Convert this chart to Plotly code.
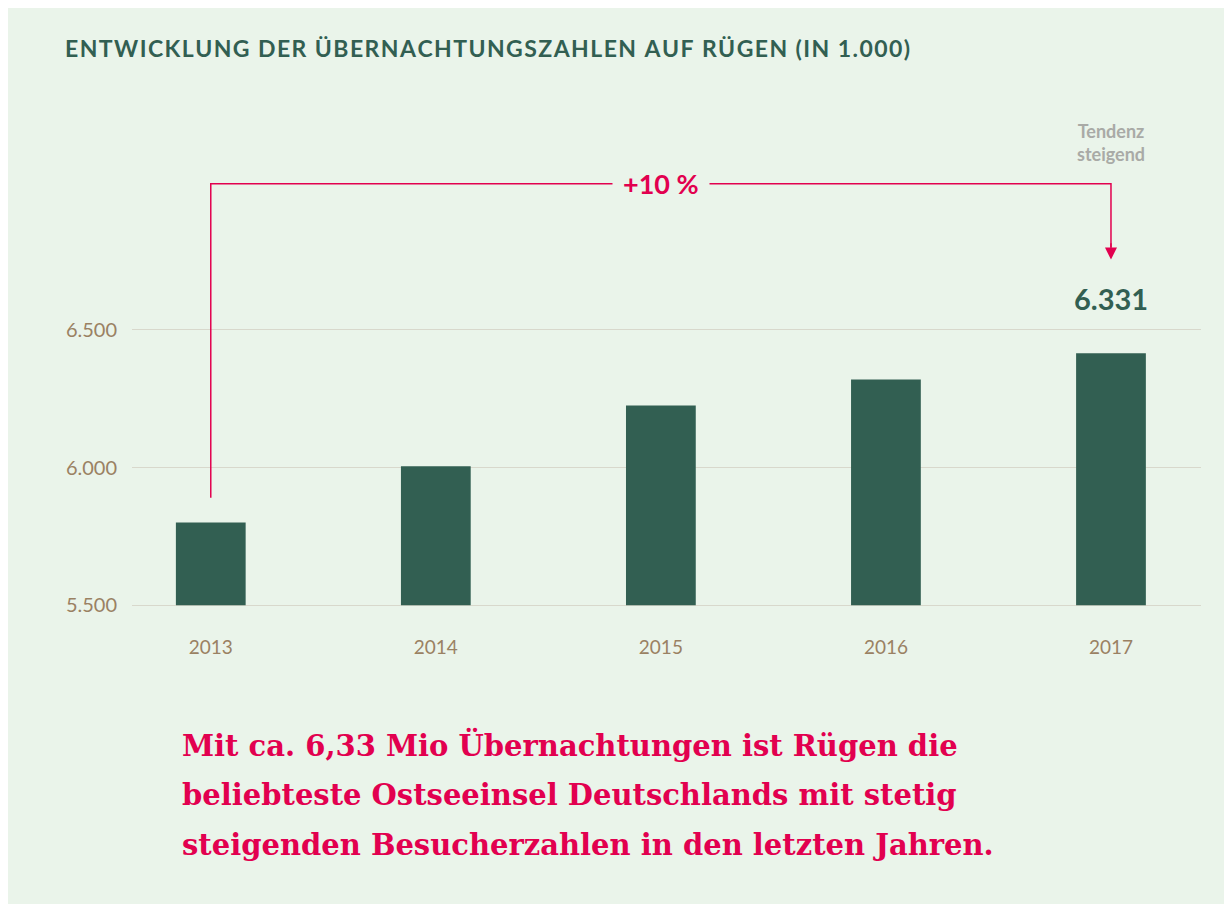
import plotly.graph_objects as go

years = ['2013', '2014', '2015', '2016', '2017']
values = [5800, 6005, 6225, 6320, 6415]
y_ticks = [5500, 6000, 6500]
y_labels = ['5.500', '6.000', '6.500']

BG = '#eaf4ea'
GREEN = '#325f52'
RED = '#e2004f'
TICK = '#9a8163'

title = 'ENTWICKLUNG DER ÜBERNACHTUNGSZAHLEN AUF RÜGEN (IN 1.000)'
caption = ['Mit ca. 6,33 Mio Übernachtungen ist Rügen die',
           'beliebteste Ostseeinsel Deutschlands mit stetig',
           'steigenden Besucherzahlen in den letzten Jahren.']

fig = go.Figure()
fig.add_trace(go.Bar(
    x=list(range(len(years))), y=[v - 5500 for v in values], base=5500,
    marker=dict(color=GREEN, line=dict(width=0)), width=0.31,
    hoverinfo='skip',
))

# bracket from 2013 to 2017
fig.add_shape(type='path', xref='x', yref='y',
              path='M 0,5890 L 0,7030 L 4,7030 L 4,6800',
              line=dict(color=RED, width=1.5))
fig.add_annotation(x=4, y=6755, ax=4, ay=6820, xref='x', yref='y', axref='x', ayref='y',
                   text='', showarrow=True, arrowhead=2, arrowsize=1.6, arrowwidth=1.5,
                   arrowcolor=RED)
fig.add_annotation(x=2, y=7030, xref='x', yref='y', text='<b>+10 %</b>', showarrow=False,
                   font=dict(family='Lato', size=27, color=RED), bgcolor=BG,
                   borderpad=10)
fig.add_annotation(x=4, y=6612, xref='x', yref='y', text='<b>6.331</b>', showarrow=False,
                   font=dict(family='Lato', size=29, color=GREEN))
fig.add_annotation(x=4, y=7180, xref='x', yref='y', text='<b>Tendenz<br>steigend</b>',
                   showarrow=False, align='center',
                   font=dict(family='Lato', size=18, color='#a9aaa6'))

OFF = 8  # page body margin
fig.add_annotation(x=63 - OFF, y=48 - OFF, xref='paper', yref='paper',
                   text='<b>' + '\u200a'.join(title) + '</b>',
                   showarrow=False, xanchor='left', yanchor='middle',
                   font=dict(family='Lato', size=23, color=GREEN))
for i, line in enumerate(caption):
    fig.add_annotation(x=180 - OFF, y=745 + 50 * i - OFF, xref='paper', yref='paper',
                       text='<b>' + line + '</b>',
                       showarrow=False, xanchor='left', yanchor='middle', align='left',
                       font=dict(family='DejaVu Serif', size=29, color=RED))

# position paper-ref annotations in pixels
W, H = 1232, 904
L, R, T, B = 124, 39, 129, 304
for a in fig.layout.annotations:
    if a.xref == 'paper':
        a.x = (a.x - L) / (W - L - R)
        a.y = 1 - (a.y - T) / (H - T - B)

fig.update_layout(
    width=W, height=H, paper_bgcolor=BG, plot_bgcolor=BG,
    margin=dict(l=L, r=R, t=T, b=B), showlegend=False,
    xaxis=dict(range=[-0.35, 4.4], tickvals=list(range(len(years))), ticktext=years,
               showgrid=False, zeroline=False, showline=False,
               ticks='outside', ticklen=22, tickcolor='rgba(0,0,0,0)',
               tickfont=dict(family='Lato', size=19, color=TICK)),
    yaxis=dict(range=[5490, 7200], tickvals=y_ticks, ticktext=y_labels,
               showgrid=True, gridcolor='#d8d8cc', gridwidth=1, zeroline=False,
               ticks='outside', ticklen=10, tickcolor='rgba(0,0,0,0)',
               tickfont=dict(family='Lato', size=20, color=TICK)),
)

fig.write_html('out.html')
